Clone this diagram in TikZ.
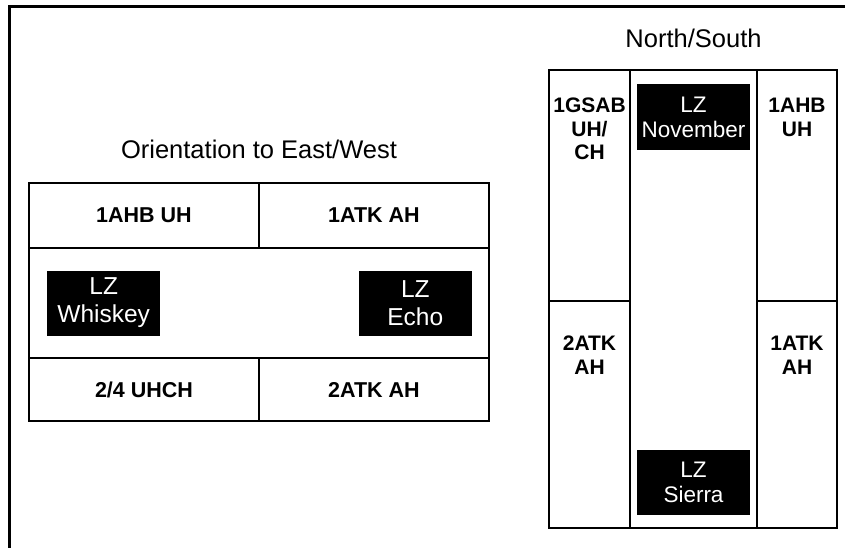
\documentclass[tikz,border=0pt]{standalone}
\usepackage{fontspec}
\setmainfont{Liberation Sans}
\usetikzlibrary{positioning}

\begin{document}
\begin{tikzpicture}[
        x=1pt, y=-1pt,
        node distance=0pt,
        cell/.style={rectangle, draw, line width=2pt, minimum width=230pt, minimum height=65pt, inner sep=0pt, outer sep=0pt, font=\fontsize{21.5}{25}\selectfont\bfseries},
        col/.style={rectangle, draw, line width=2pt, minimum width=81pt, inner sep=0pt, outer sep=0pt},
        lz/.style={rectangle, fill=black, text=white, minimum width=113pt, minimum height=65pt, align=center, inner sep=0pt, font=\fontsize{22.5}{25}\selectfont},
        biglz/.style={lz, font=\fontsize{24.5}{28}\selectfont},
        heading/.style={inner sep=0pt, font=\fontsize{25.5}{30}\selectfont},
        lbl/.style={align=center, inner sep=0pt, font=\fontsize{21}{23.5}\selectfont\bfseries}
    ]
        \useasboundingbox (0,0) rectangle (845,548);
        \draw[line width=3pt] (9,548) -- (9,7) -- (845,7);

        % east/west layout
        \node[cell, anchor=north west] (AHB) at (29,183) {1AHB UH};
        \node[cell, right=of AHB] (ATK) {1ATK AH};
        \node[cell, minimum width=460pt, minimum height=110pt, below=of AHB.south west, anchor=north west] (BAND) {};
        \node[cell, minimum height=63pt, below=of BAND.south west, anchor=north west] (UHCH) {2/4 UHCH};
        \node[cell, minimum height=63pt, right=of UHCH] (ATKB) {2ATK AH};
        \node[biglz, right=18pt of BAND.west] (WHISKEY) {LZ\\Whiskey};
        \node[biglz, left=17pt of BAND.east] (ECHO) {LZ\\Echo};
        \node[heading, above=24pt of AHB.north east] (EW) {Orientation to East/West};

        % north/south layout
        \node[col, minimum height=231pt, anchor=north west] (GSAB) at (549,70) {};
        \node[col, minimum height=227pt, below=of GSAB] (ATKW) {};
        \node[col, minimum width=127pt, minimum height=458pt, anchor=north west] (LANE) at (630,70) {};
        \node[col, minimum width=80pt, minimum height=231pt, anchor=north west] (AHBN) at (757,70) {};
        \node[col, minimum width=80pt, minimum height=227pt, below=of AHBN] (ATKE) {};
        \node[lz, minimum height=66pt, below=14pt of LANE.north] (NOVEMBER) {LZ\\November};
        \node[lz, above=13pt of LANE.south] (SIERRA) {LZ\\Sierra};
        \node[lbl, below=28pt of GSAB.north] (GSABT) {1GSAB\\UH/\\CH};
        \node[lbl, below=28pt of AHBN.north] (AHBNT) {1AHB\\UH};
        \node[lbl, below=35pt of ATKW.north] (ATKWT) {2ATK\\AH};
        \node[lbl, below=35pt of ATKE.north] (ATKET) {1ATK\\AH};
        \node[heading, above=22pt of LANE.north] (NS) {North/South};
    \end{tikzpicture}
\end{document}
